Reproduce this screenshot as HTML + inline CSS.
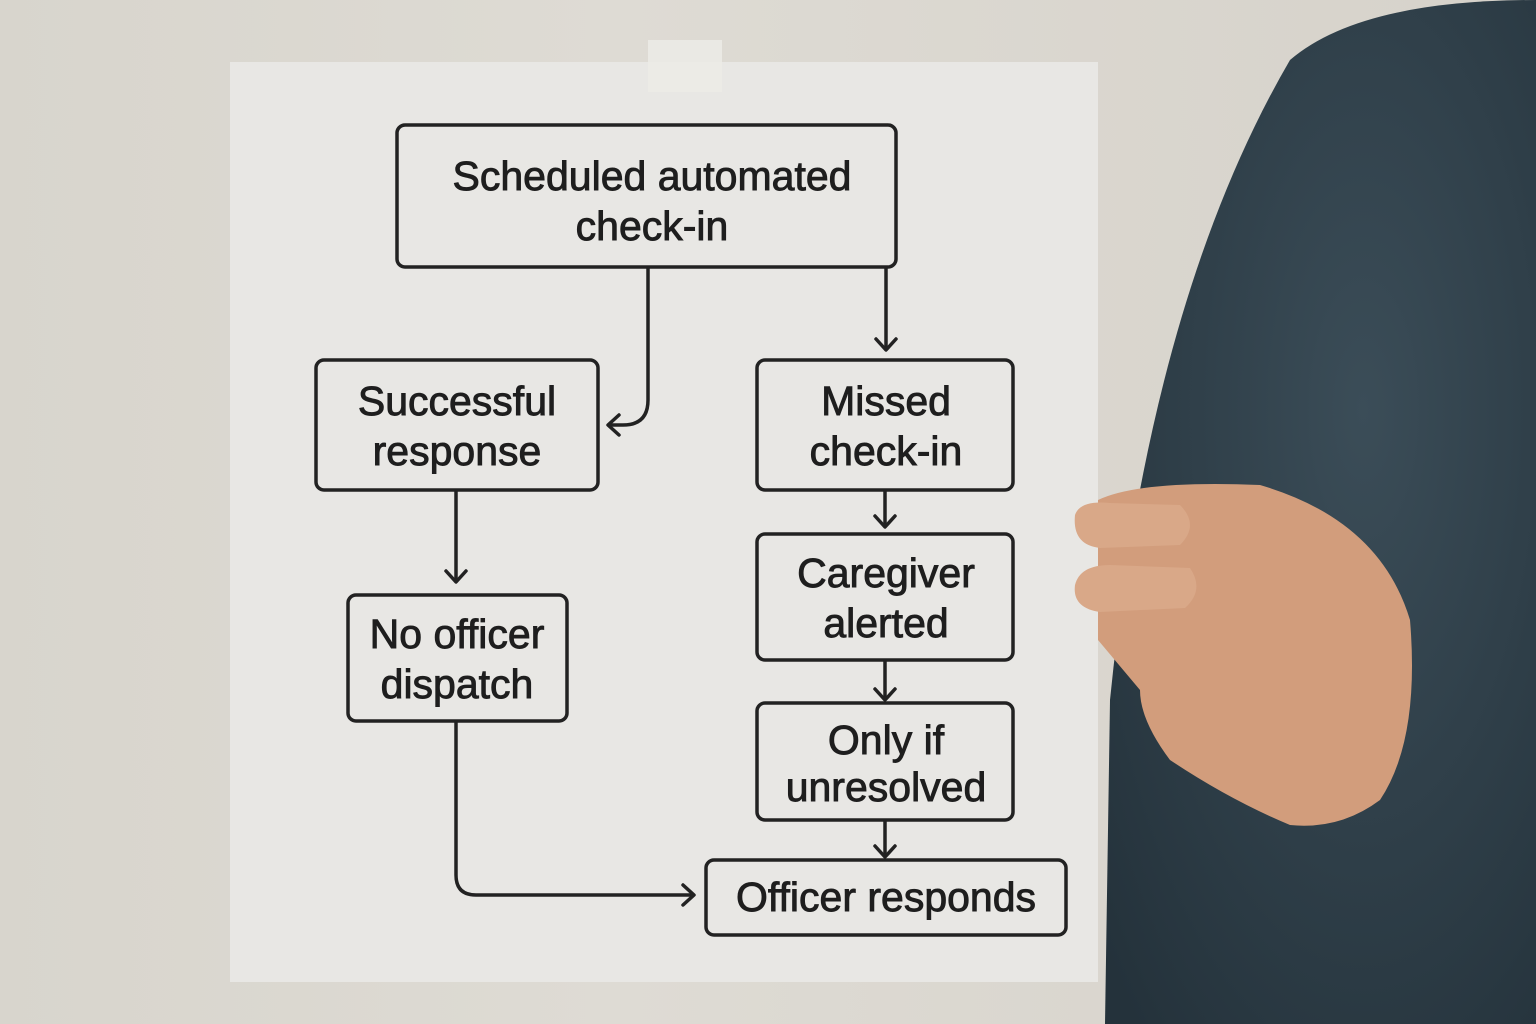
<!DOCTYPE html>
<html><head><meta charset="utf-8"><style>
html,body{margin:0;padding:0;}
body{width:1536px;height:1024px;overflow:hidden;background:linear-gradient(90deg,#d8d5cd,#dedbd4 40%,#d6d2ca);position:relative;font-family:"Liberation Sans",sans-serif;}
svg{position:absolute;left:0;top:0;}
.t{font-family:"Liberation Sans",sans-serif;font-size:41px;fill:#1e1e1e;stroke:#1e1e1e;stroke-width:0.9;text-anchor:middle;}
</style></head><body>
<svg width="1536" height="1024" viewBox="0 0 1536 1024">
<defs>
<marker id="a" markerWidth="20" markerHeight="24" refX="14" refY="12" orient="auto" markerUnits="userSpaceOnUse"><path d="M3,2 L14,12 L3,22" fill="none" stroke="#222" stroke-width="3.5" stroke-linecap="round" stroke-linejoin="round"/></marker>
<radialGradient id="sw" cx="0.6" cy="0.4" r="0.8"><stop offset="0" stop-color="#3b4d58"/><stop offset="1" stop-color="#24323b"/></radialGradient>
</defs>
<path d="M1290,60 Q1360,0 1536,0 L1536,1024 L1105,1024 L1110,700 Q1150,300 1290,60 Z" fill="url(#sw)"/>
<rect x="230" y="62" width="868" height="920" fill="#e8e7e4"/>
<rect x="648" y="40" width="74" height="52" fill="#ecebe6" opacity="0.85"/>
<path d="M1098,500 Q1140,480 1260,485 Q1380,520 1410,620 Q1420,740 1380,800 Q1340,830 1290,825 Q1230,800 1170,760 Q1140,720 1140,690 L1098,640 Z" fill="#d29d7c"/>
<path d="M1075,515 Q1080,500 1110,503 L1180,505 Q1200,525 1180,545 L1100,548 Q1072,545 1075,515 Z" fill="#d9a888"/>
<path d="M1075,585 Q1080,565 1110,565 L1190,568 Q1205,590 1185,608 L1100,612 Q1072,608 1075,585 Z" fill="#d9a888"/>
<g fill="none" stroke="#222" stroke-width="3.5">
<rect x="397" y="125" width="499" height="142" rx="8"/>
<rect x="316" y="360" width="282" height="130" rx="8"/>
<rect x="757" y="360" width="256" height="130" rx="8"/>
<rect x="348" y="595" width="219" height="126" rx="8"/>
<rect x="757" y="534" width="256" height="126" rx="8"/>
<rect x="757" y="703" width="256" height="117" rx="8"/>
<rect x="706" y="860" width="360" height="75" rx="8"/>
<path d="M648,267 V400 Q648,425 623,425 H608" marker-end="url(#a)"/>
<path d="M886,267 V350" marker-end="url(#a)"/>
<path d="M456,490 V582" marker-end="url(#a)"/>
<path d="M885,490 V527" marker-end="url(#a)"/>
<path d="M885,660 V700" marker-end="url(#a)"/>
<path d="M885,820 V857" marker-end="url(#a)"/>
<path d="M456,721 V875 Q456,895 476,895 H694" marker-end="url(#a)"/>
</g>
<text class="t" x="652" y="190">Scheduled automated</text>
<text class="t" x="652" y="240">check-in</text>
<text class="t" x="457" y="415">Successful</text>
<text class="t" x="457" y="465">response</text>
<text class="t" x="886" y="415">Missed</text>
<text class="t" x="886" y="465">check-in</text>
<text class="t" x="457" y="648">No officer</text>
<text class="t" x="457" y="698">dispatch</text>
<text class="t" x="886" y="587">Caregiver</text>
<text class="t" x="886" y="637">alerted</text>
<text class="t" x="886" y="754">Only if</text>
<text class="t" x="886" y="801">unresolved</text>
<text class="t" x="886" y="911">Officer responds</text>
</svg>
</body></html>
